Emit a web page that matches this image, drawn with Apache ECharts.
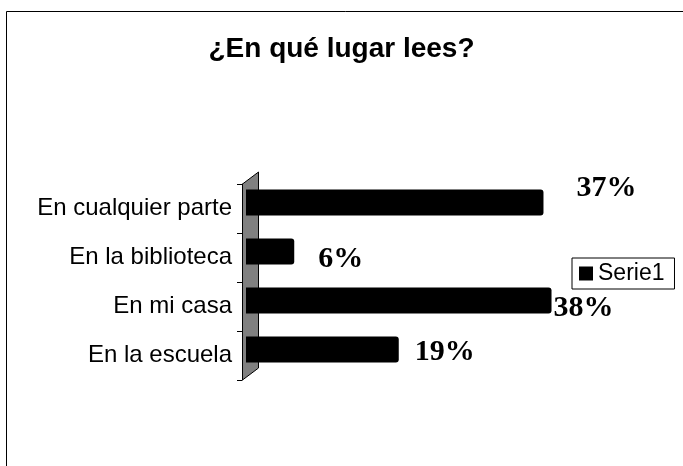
<!DOCTYPE html>
<html>
<head>
<meta charset="utf-8">
<script src="https://cdn.jsdelivr.net/npm/echarts@6/dist/echarts.min.js"></script>
<style>html,body{margin:0;padding:0;background:#fff;}#c{width:683px;height:466px;}</style>
</head>
<body>
<div id="c"></div>
<script>
const titleText = '¿En qué lugar lees?';
const categories = ['En la escuela', 'En mi casa', 'En la biblioteca', 'En cualquier parte'];
const values = [19, 38, 6, 37];
const valueLabels = ['19%', '38%', '6%', '37%'];
const seriesName = 'Serie1';

// label placement tweaks (style, kept separate from data)
const labelOffsets = [[11, 3], [-3, 8], [19, 8], [28, -14]];

const chart = echarts.init(document.getElementById('c'), null, {renderer: 'canvas'});
const sans = 'Liberation Sans, Arial, sans-serif';
const serif = 'Liberation Serif, Times New Roman, serif';

const option = {
  backgroundColor: '#fff',
  animation: false,
  title: {
    text: titleText,
    left: 'center',
    top: 30,
    textStyle: {fontFamily: sans, fontSize: 28, fontWeight: 'bold', color: '#000'}
  },
  legend: {
    data: [seriesName],
    left: 572,
    top: 258,
    orient: 'vertical',
    icon: 'rect',
    itemWidth: 14,
    itemHeight: 14,
    itemGap: 0,
    padding: [4, 10, 4, 7],
    borderColor: '#000',
    borderWidth: 1,
    backgroundColor: '#fff',
    textStyle: {fontFamily: sans, fontSize: 23, color: '#000', padding: [0, 0, 0, 0]}
  },
  graphic: [
    {type: 'rect', z: -10, shape: {x: 6.5, y: 11.5, width: 700, height: 500}, style: {fill: 'none', stroke: '#000', lineWidth: 1}},
    {type: 'polygon', z: -5, shape: {points: [[242.5, 184], [258.5, 172], [258.5, 368], [242.5, 380]]}, style: {fill: '#808080', stroke: '#000', lineWidth: 1}}
  ],
  grid: [
    {left: 242, top: 184, width: 320, height: 196, containLabel: false},
    {left: 246, top: 178, right: 115.4, height: 196, containLabel: false}
  ],
  xAxis: [
    {gridIndex: 0, type: 'value', min: 0, max: 40, show: false},
    {gridIndex: 1, type: 'value', min: 0, max: 40, show: false}
  ],
  yAxis: [
    {
      gridIndex: 0, type: 'category', data: categories,
      axisLine: {show: true, lineStyle: {color: '#000', width: 1}},
      axisTick: {show: true, length: 5, lineStyle: {color: '#000'}},
      axisLabel: {fontFamily: sans, fontSize: 24, color: '#000', margin: 10},
      splitLine: {show: false}
    },
    {gridIndex: 1, type: 'category', data: categories, show: false}
  ],
  series: [{
    name: seriesName,
    type: 'bar',
    xAxisIndex: 1,
    yAxisIndex: 1,
    barWidth: 26,
    itemStyle: {color: '#000', borderRadius: [0, 3, 3, 0]},
    data: values.map((v, i) => ({
      value: v,
      label: {
        show: true,
        position: 'right',
        distance: 5,
        offset: labelOffsets[i],
        formatter: valueLabels[i],
        fontFamily: serif,
        fontSize: 30,
        fontWeight: 'bold',
        color: '#000'
      }
    }))
  }]
};
chart.setOption(option);
</script>
</body>
</html>
